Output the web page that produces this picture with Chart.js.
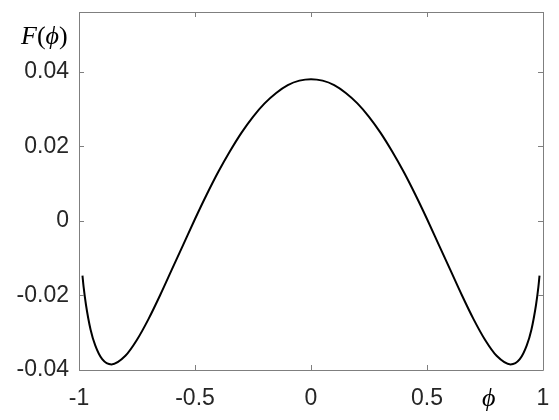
<!DOCTYPE html>
<html>
<head>
<meta charset="utf-8">
<script src="https://cdn.jsdelivr.net/npm/chart.js@4.4.1/dist/chart.umd.min.js"></script>
<style>
    html, body { margin: 0; padding: 0; background: #fff; }
    #wrap { position: relative; width: 559px; height: 420px; }
    .lbl { position: absolute; font-family: 'Liberation Serif', 'DejaVu Serif', serif; color: #000; white-space: nowrap; line-height: 1; }
    .lbl i { font-style: italic; }
</style>
</head>
<body>
<div id="wrap">
    <canvas id="chart" width="559" height="420"></canvas>
    <div class="lbl" id="ylabel" style="left:21px; top:23px; font-size:26px;"><i>F</i>(<i>&#981;</i>)</div>
    <div class="lbl" id="xlabel" style="left:482px; top:385px; font-size:26px;"><i>&#981;</i></div>
</div>
<script>
// valori
const phi = [-0.985, -0.98, -0.97, -0.95, -0.93, -0.9, -0.86, -0.8, -0.75, -0.7, -0.65, -0.6, -0.55, -0.5, -0.45, -0.4, -0.35, -0.3, -0.25, -0.2, -0.15, -0.1, -0.05, 0,
             0.05, 0.1, 0.15, 0.2, 0.25, 0.3, 0.35, 0.4, 0.45, 0.5, 0.55, 0.6, 0.65, 0.7, 0.75, 0.8, 0.86, 0.9, 0.93, 0.95, 0.97, 0.98, 0.985];
const energy = [-0.0147, -0.0178, -0.0225, -0.0292, -0.0334, -0.0371, -0.0385, -0.0362, -0.0319, -0.0263, -0.0199, -0.0131, -0.0063, 0.0005, 0.0070, 0.0131, 0.0186, 0.0236, 0.0279, 0.0315, 0.0343, 0.0364, 0.0376, 0.0380,
                0.0376, 0.0364, 0.0343, 0.0315, 0.0279, 0.0236, 0.0186, 0.0131, 0.0070, 0.0005, -0.0063, -0.0131, -0.0199, -0.0263, -0.0319, -0.0362, -0.0385, -0.0371, -0.0334, -0.0292, -0.0225, -0.0178, -0.0147];
const xTicks = [-1, -0.5, 0, 0.5, 1];
const xTickLabels = ['-1', '-0.5', '0', '0.5', '1'];
const yTicks = [-0.04, -0.02, 0, 0.02, 0.04];
const yTickLabels = ['-0.04', '-0.02', '0', '0.02', '0.04'];

const axisColor = '#7f7f7f';
const tickFont = { family: "'Liberation Sans', Arial, sans-serif", size: 23 };

// box + tacche interne stile MATLAB
const boxPlugin = {
    id: 'box',
    afterDraw(chart) {
        const { ctx, chartArea: a, scales: { x, y } } = chart;
        ctx.save();
        ctx.strokeStyle = axisColor;
        ctx.lineWidth = 1;
        ctx.beginPath();
        ctx.rect(a.left + 0.5, a.top + 0.5, a.right - a.left, a.bottom - a.top);
        const len = 5;
        xTicks.forEach(v => {
            const px = Math.round(x.getPixelForValue(v)) + 0.5;
            ctx.moveTo(px, a.bottom); ctx.lineTo(px, a.bottom - len);
            ctx.moveTo(px, a.top); ctx.lineTo(px, a.top + len);
        });
        yTicks.forEach(v => {
            const py = Math.round(y.getPixelForValue(v)) + 0.5;
            ctx.moveTo(a.left, py); ctx.lineTo(a.left + len, py);
            ctx.moveTo(a.right, py); ctx.lineTo(a.right - len, py);
        });
        ctx.stroke();
        ctx.restore();
    }
};

new Chart(document.getElementById('chart'), {
    type: 'line',
    data: {
        datasets: [{
            data: phi.map((p, i) => ({ x: p, y: energy[i] })),
            borderColor: '#000',
            borderWidth: 2,
            pointRadius: 0,
            fill: false,
            cubicInterpolationMode: 'monotone'
        }]
    },
    options: {
        responsive: false,
        animation: false,
        layout: { padding: { left: 0, right: 16, top: 12, bottom: 0 } },
        plugins: { legend: { display: false }, tooltip: { enabled: false } },
        scales: {
            x: {
                type: 'linear', min: -1, max: 1,
                afterFit: s => { s.height = 50; s.paddingLeft = 0; s.paddingRight = 0; },
                afterBuildTicks: s => { s.ticks = xTicks.map(v => ({ value: v })); },
                grid: { display: false, drawTicks: false },
                border: { display: false },
                ticks: { font: tickFont, color: '#262626', padding: 15, maxRotation: 0,
                    callback: (v) => xTickLabels[xTicks.indexOf(v)] }
            },
            y: {
                type: 'linear', min: -0.04, max: 0.056,
                afterFit: s => { s.width = 79; s.paddingTop = 0; s.paddingBottom = 0; },
                afterBuildTicks: s => { s.ticks = yTicks.map(v => ({ value: v })); },
                grid: { display: false, drawTicks: false },
                border: { display: false },
                ticks: { font: tickFont, color: '#262626', padding: 10,
                    callback: (v) => yTickLabels[yTicks.indexOf(v)] }
            }
        }
    },
    plugins: [boxPlugin]
});
</script>
</body>
</html>
